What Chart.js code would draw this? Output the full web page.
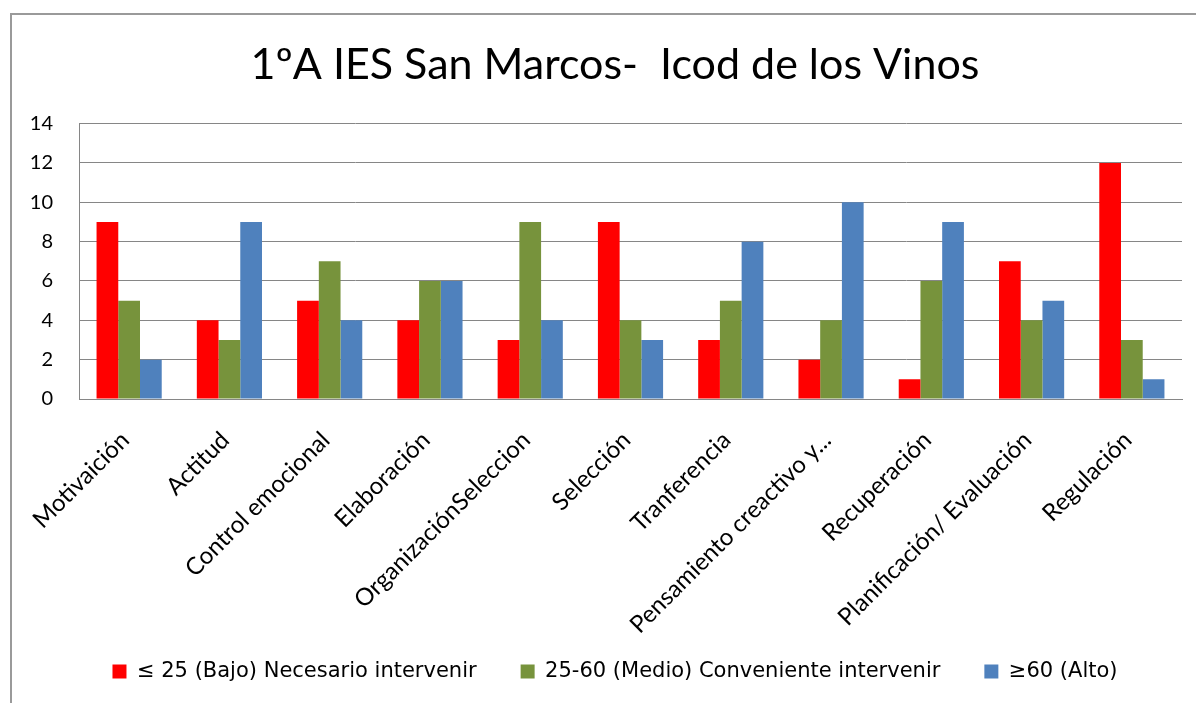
<!DOCTYPE html>
<html>
<head>
<meta charset="utf-8">
<script src="https://cdn.jsdelivr.net/npm/chart.js@4"></script>
<style>
  html, body { margin: 0; padding: 0; background: #fff; }
  #wrap { position: relative; width: 1196px; height: 703px; }
</style>
</head>
<body>
<div id="wrap"><canvas id="barChart" width="1196" height="703"></canvas></div>
<script>
const categorias = ['Motivaición', 'Actitud', 'Control emocional', 'Elaboración', 'OrganizaciónSeleccion',
  'Selección', 'Tranferencia', 'Pensamiento creactivo y...', 'Recuperación', 'Planificación/ Evaluación', 'Regulación'];
const bajo = [9, 4, 5, 4, 3, 9, 3, 2, 1, 7, 12];
const medio = [5, 3, 7, 6, 9, 4, 5, 4, 6, 4, 3];
const alto = [2, 9, 4, 6, 4, 3, 8, 10, 9, 5, 1];
const yTicks = [0, 2, 4, 6, 8, 10, 12, 14];

const fuente = 'Lato, "Open Sans", sans-serif';

// marco gris alrededor del grafico
const marco = {
  id: 'marco',
  beforeDraw(chart) {
    const c = chart.ctx;
    c.save();
    c.strokeStyle = '#9a9a9a';
    c.lineWidth = 2;
    c.strokeRect(11, 14, 1300, 800);
    c.restore();
  },
  // que las etiquetas largas no se recorten
  afterLayout(chart) {
    chart.scales.x.bottom = chart.height;
    chart.scales.y.left = 0;
  }
};

const ctx = document.getElementById('barChart').getContext('2d');
const grafico = new Chart(ctx, {
  type: 'bar',
  data: {
    labels: categorias,
    datasets: [{
      label: '≤ 25 (Bajo) Necesario intervenir',
      data: bajo,
      backgroundColor: '#ff0000'
    }, {
      label: '25-60 (Medio) Conveniente intervenir',
      data: medio,
      backgroundColor: '#77933c'
    }, {
      label: '≥60 (Alto)',
      data: alto,
      backgroundColor: '#4f81bd'
    }]
  },
  options: {
    responsive: false,
    animation: false,
    layout: { padding: { left: 48, right: 14, top: 0, bottom: 11 } },
    datasets: { bar: { categoryPercentage: 0.65, barPercentage: 1.0 } },
    plugins: {
      title: {
        display: true,
        text: '1ºA IES San Marcos-  Icod de los Vinos',
        color: '#000',
        font: { family: fuente, size: 43, weight: 'normal' },
        padding: { top: 39, bottom: 33 }
      },
      legend: {
        position: 'bottom',
        labels: {
          color: '#000',
          font: { family: '"DejaVu Sans", sans-serif', size: 21 },
          boxWidth: 14,
          boxHeight: 14,
          padding: 44
        }
      },
      tooltip: { enabled: false }
    },
    scales: {
      x: {
        grid: { display: false },
        border: { color: '#868686', width: 1 },
        ticks: {
          color: '#000',
          font: { family: fuente, size: 24 },
          maxRotation: 45,
          minRotation: 45,
          autoSkip: false,
          padding: 19,
          labelOffset: -4
        },
        afterFit(scale) { scale.height = 218; }
      },
      y: {
        min: 0,
        max: 14,
        afterBuildTicks(scale) { scale.ticks = yTicks.map(v => ({ value: v })); },
        grid: { color: '#868686', lineWidth: 1, drawTicks: false },
        border: { color: '#868686', width: 1 },
        ticks: {
          color: '#000',
          font: { family: fuente, size: 20 },
          padding: 26
        },
        afterFit(scale) { scale.width = 31; }
      }
    }
  },
  plugins: [marco]
});
</script>
</body>
</html>
